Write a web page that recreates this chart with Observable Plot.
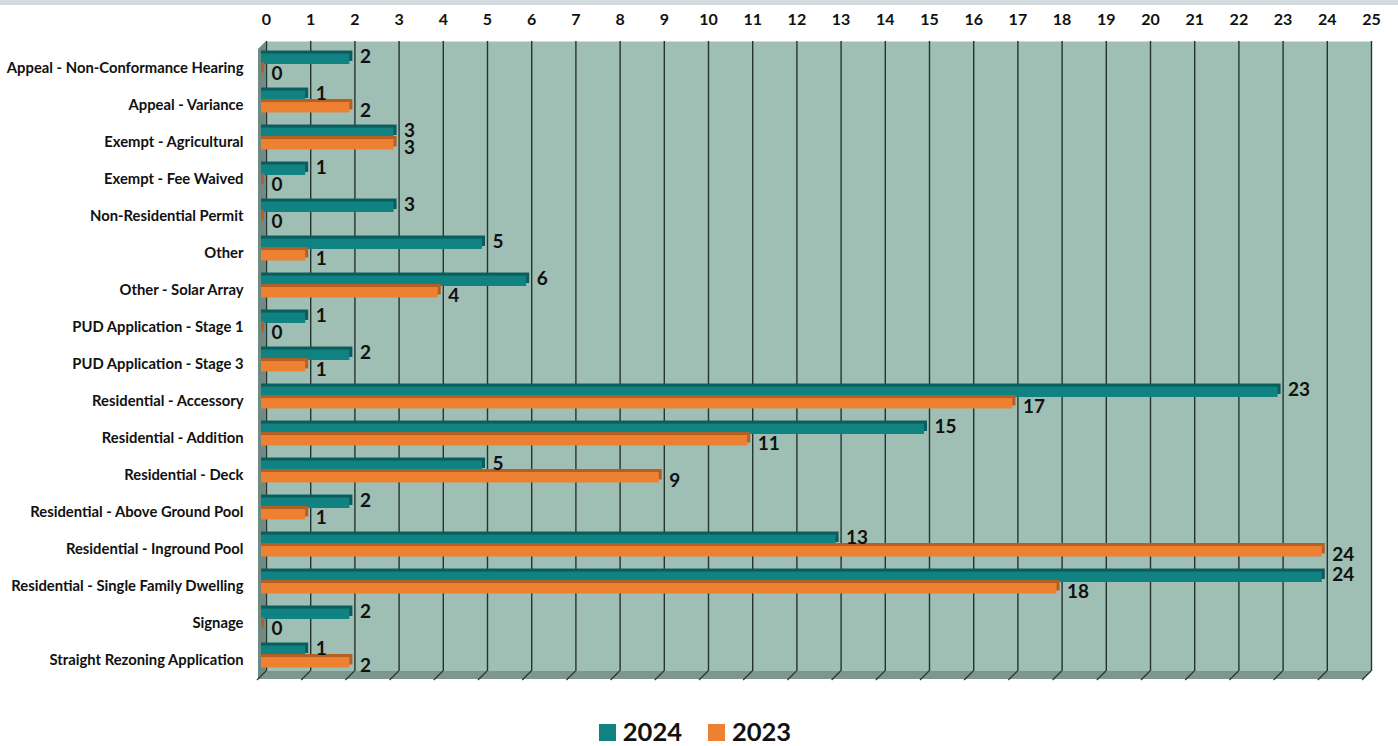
<!DOCTYPE html>
<html>
<head>
<meta charset="utf-8">
<script src="https://cdn.jsdelivr.net/npm/d3@7"></script>
<script src="https://cdn.jsdelivr.net/npm/@observablehq/plot@0.6"></script>
<style>
  html, body { margin: 0; padding: 0; background: #fff; }
  body { width: 1398px; height: 746px; position: relative; overflow: hidden; font-family: Lato, "Open Sans", sans-serif; }
  #topstrip { position: absolute; left: 0; top: 0; width: 1398px; height: 5px; background: #d3dbde; }
  #chart svg text { font-weight: bold; }
  #legend { position: absolute; left: 0; top: 716px; height: 30px; width: 1390px; display: flex; justify-content: center; align-items: center; gap: 26px; font-family: Lato, sans-serif; font-weight: bold; font-size: 25.5px; line-height: 30px; color: #111; }
  #legend .item { display: flex; align-items: center; gap: 7px; height: 30px; }
  #legend .sw { width: 17px; height: 17px; display: inline-block; margin-top: 3px; }
</style>
</head>
<body>
<div id="topstrip"></div>
<div id="chart"></div>
<div id="legend"></div>
<script>
const categories = [
  "Appeal - Non-Conformance Hearing",
  "Appeal - Variance",
  "Exempt - Agricultural",
  "Exempt - Fee Waived",
  "Non-Residential Permit",
  "Other",
  "Other - Solar Array",
  "PUD Application - Stage 1",
  "PUD Application - Stage 3",
  "Residential - Accessory",
  "Residential - Addition",
  "Residential - Deck",
  "Residential - Above Ground Pool",
  "Residential - Inground Pool",
  "Residential - Single Family Dwelling",
  "Signage",
  "Straight Rezoning Application"
];
const values2024 = [2, 1, 3, 1, 3, 5, 6, 1, 2, 23, 15, 5, 2, 13, 24, 2, 1];
const values2023 = [0, 2, 3, 0, 0, 1, 4, 0, 1, 17, 11, 9, 1, 24, 18, 0, 2];
const seriesNames = ["2024", "2023"];
const xTicks = d3.range(0, 26);

const colors = {"2024": "#0f8281", "2023": "#ee8032"};
const darkColors = {"2024": "#0a5d5c", "2023": "#b65f22"};

const d24 = categories.map((c, i) => ({category: c, value: values2024[i], series: "2024"}));
const d23 = categories.map((c, i) => ({category: c, value: values2023[i], series: "2023"}));

const depth = 8;
const band = (675 - 45) / categories.length;
const half = band / 2;
const barH = 11;

function floorAndWall(index, scales, values, dims) {
  const g = d3.create("svg:g");
  const x = scales.x;
  const top = dims.marginTop, bottom = dims.height - dims.marginBottom;
  const x0 = x(0), x1 = x(25);
  g.append("path")
    .attr("d", `M${x0},${top}L${x0 - depth},${top + depth}L${x0 - depth},${bottom + depth}L${x0},${bottom}Z`)
    .attr("fill", "#6f8a83");
  g.append("path")
    .attr("d", `M${x0},${bottom}L${x1},${bottom}L${x1 - depth},${bottom + depth}L${x0 - depth},${bottom + depth}Z`)
    .attr("fill", "#7d968f");
  for (const t of xTicks) {
    g.append("line")
      .attr("x1", x(t)).attr("y1", bottom)
      .attr("x2", x(t) - depth - 1).attr("y2", bottom + depth + 1)
      .attr("stroke", "#2b3633").attr("stroke-width", 1.2);
  }
  return g.node();
}

const plot = Plot.plot({
  width: 1398,
  height: 700,
  marginTop: 41,
  marginBottom: 29,
  marginLeft: 266,
  marginRight: 27,
  style: {fontFamily: "Lato, 'Open Sans', sans-serif", color: "#111", background: "transparent"},
  x: {domain: [0, 25], axis: null, label: null},
  y: {type: "band", domain: categories, range: [45, 675], padding: 0, axis: null, label: null},
  marks: [
    Plot.frame({fill: "#9fbfb5", stroke: null}),
    Plot.ruleX(xTicks, {x: d => d, stroke: "#26332f", strokeWidth: 1.4}),
    floorAndWall,
    Plot.rectX(d24, {x: "value", y: "category", fill: darkColors["2024"], dx: -5, dy: -3, insetRight: -3, insetTop: half - barH, insetBottom: half + 0.5}),
    Plot.rectX(d24, {x: "value", y: "category", fill: colors["2024"], dx: -5, insetTop: half - barH, insetBottom: half + 0.5}),
    Plot.rectX(d23, {x: "value", y: "category", fill: darkColors["2023"], dx: -5, dy: -3, insetRight: -3, insetTop: half + 0.5, insetBottom: half - barH}),
    Plot.rectX(d23, {x: "value", y: "category", fill: colors["2023"], dx: -5, insetTop: half + 0.5, insetBottom: half - barH}),
    Plot.text(d24, {x: "value", y: "category", text: d => String(d.value), textAnchor: "start", dx: 5, dy: -8, fontSize: 19, fill: "#111"}),
    Plot.text(d23, {x: "value", y: "category", text: d => String(d.value), textAnchor: "start", dx: 5, dy: 9, fontSize: 19, fill: "#111"}),
    Plot.axisX(xTicks, {anchor: "top", tickSize: 0, tickPadding: 17, fontSize: 16, label: null, tickFormat: d => String(d)}),
    Plot.axisY(categories, {anchor: "left", tickSize: 0, tickPadding: 23, fontSize: 14.8, label: null, dy: 3})
  ]
});
document.getElementById("chart").appendChild(plot);

const legend = document.getElementById("legend");
for (const s of seriesNames) {
  const item = document.createElement("div");
  item.className = "item";
  const sw = document.createElement("span");
  sw.className = "sw";
  sw.style.background = colors[s];
  const label = document.createElement("span");
  label.textContent = s;
  item.appendChild(sw);
  item.appendChild(label);
  legend.appendChild(item);
}
</script>
</body>
</html>
